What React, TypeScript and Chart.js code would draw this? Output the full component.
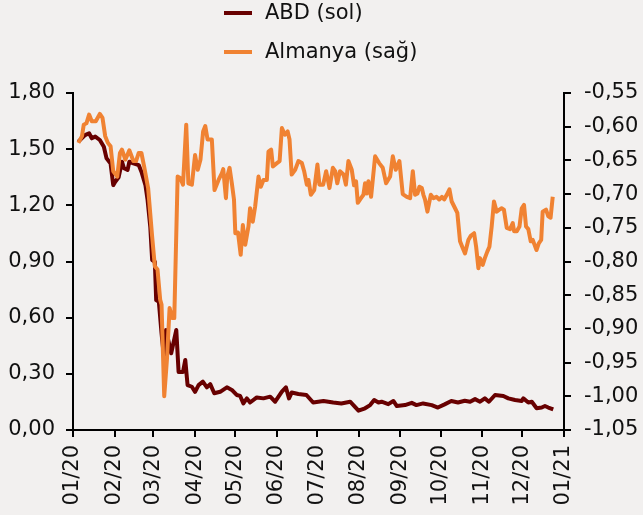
import React, { useEffect, useRef } from "react";
import { Chart, registerables } from "chart.js";

Chart.register(...registerables);

// Day offsets from 2020-01-01
const monthTickDays = [0, 31, 60, 91, 121, 152, 182, 213, 244, 274, 305, 335, 366];
const monthTickLabels = ["01/20", "02/20", "03/20", "04/20", "05/20", "06/20", "07/20", "08/20", "09/20", "10/20", "11/20", "12/20", "01/21"];

const abdLabel = "ABD (sol)";
const almLabel = "Almanya (sağ)";

const abdDays = [4, 9, 12, 14, 16.6, 20, 23, 25, 28, 30, 31.5, 34, 36.5, 38, 40.7, 42, 45, 49, 51, 54, 55.6, 57.6, 59, 61, 62, 64, 66, 68, 69.3, 73.2, 77, 78.7, 82, 83.7, 85.4, 88.6, 91, 93.6, 96.8, 99.8, 102.3, 105.3, 109.7, 114.7, 118.4, 122, 124.6, 127, 129.6, 132, 137, 142, 147, 150.7, 155.7, 158.7, 161, 163, 168, 174, 179, 186.7, 194, 200, 206.6, 209, 212.8, 217.7, 221.5, 224.5, 227.7, 230, 235, 238.8, 241.4, 247.5, 252.5, 256, 261, 267.4, 272, 277, 282, 287, 292, 296, 299.7, 303.4, 307, 310, 314.6, 320.8, 324.5, 329.5, 334.5, 335.7, 339.4, 342, 345.6, 349.4, 351.8, 354.3, 358];
const abdValues = [1.54, 1.575, 1.585, 1.558, 1.567, 1.549, 1.513, 1.451, 1.424, 1.308, 1.326, 1.35, 1.433, 1.398, 1.389, 1.433, 1.424, 1.415, 1.38, 1.308, 1.228, 1.086, 0.908, 0.899, 0.694, 0.685, 0.516, 0.374, 0.534, 0.41, 0.534, 0.31, 0.31, 0.374, 0.24, 0.231, 0.204, 0.24, 0.258, 0.228, 0.245, 0.196, 0.204, 0.228, 0.214, 0.187, 0.182, 0.142, 0.169, 0.147, 0.174, 0.169, 0.178, 0.151, 0.205, 0.228, 0.169, 0.2, 0.192, 0.187, 0.147, 0.155, 0.147, 0.142, 0.151, 0.133, 0.103, 0.116, 0.133, 0.16, 0.147, 0.151, 0.138, 0.155, 0.128, 0.133, 0.145, 0.133, 0.142, 0.133, 0.12, 0.137, 0.155, 0.147, 0.156, 0.151, 0.165, 0.151, 0.169, 0.151, 0.187, 0.182, 0.169, 0.16, 0.155, 0.169, 0.147, 0.151, 0.116, 0.12, 0.128, 0.12, 0.11];

const almDays = [4, 6.7, 8, 10, 12, 14, 17, 20, 22, 24, 26, 28, 30, 33, 35, 36.5, 39, 42, 45, 47, 49, 51, 53, 56, 59, 61, 63, 65, 66, 68, 70, 72, 74, 75.5, 78, 80, 82, 84.4, 86, 88.6, 91, 93, 95, 97, 98.6, 100.3, 103.5, 105.5, 108.5, 111, 112, 114, 115, 116.7, 118.4, 120, 121, 123, 125, 126.6, 128.4, 130.8, 132, 134, 135.8, 138.3, 140, 142, 144.5, 145.7, 147.7, 149, 152, 154, 155.7, 158, 160, 161.4, 163, 165.6, 168, 170.6, 172.3, 174.3, 175.5, 177.3, 179.8, 182.2, 183.7, 186.5, 188.7, 191.2, 193.7, 195.4, 197, 199, 201.7, 203.4, 205.3, 207.8, 209.5, 211, 212.3, 214.7, 216.5, 217.7, 219, 220.2, 222.2, 225.2, 228.2, 230.9, 233.4, 236.4, 238.4, 240.6, 243.3, 245.8, 248.8, 251.3, 253.3, 255, 256.8, 258.2, 260, 261.2, 262.4, 264.2, 266.7, 268.7, 271, 273, 275, 276.7, 278.6, 280.6, 282.3, 284.8, 286.5, 288.5, 290.5, 292.2, 294.7, 296.5, 299, 300.5, 302.2, 303.4, 305.4, 307, 308.9, 310.4, 312.1, 313.8, 315.8, 317.8, 319.5, 321.2, 323.3, 325.8, 327.8, 328.8, 330.8, 332.8, 334.5, 336.2, 337.7, 339.4, 341.2, 342.7, 344, 345.5, 347.2, 349, 350.1, 352.6, 354.3, 356, 357.6];
const almValues = [-0.624, -0.614, -0.597, -0.595, -0.582, -0.592, -0.592, -0.581, -0.587, -0.614, -0.624, -0.629, -0.666, -0.674, -0.639, -0.634, -0.649, -0.635, -0.651, -0.651, -0.639, -0.639, -0.659, -0.691, -0.763, -0.807, -0.812, -0.857, -0.864, -1.0, -0.946, -0.869, -0.884, -0.884, -0.674, -0.676, -0.686, -0.597, -0.684, -0.686, -0.642, -0.664, -0.649, -0.607, -0.599, -0.619, -0.619, -0.694, -0.679, -0.669, -0.663, -0.706, -0.674, -0.661, -0.684, -0.708, -0.758, -0.757, -0.79, -0.746, -0.775, -0.748, -0.721, -0.741, -0.718, -0.674, -0.689, -0.679, -0.679, -0.637, -0.634, -0.659, -0.654, -0.651, -0.602, -0.612, -0.607, -0.619, -0.671, -0.664, -0.651, -0.654, -0.666, -0.686, -0.679, -0.701, -0.694, -0.656, -0.686, -0.686, -0.666, -0.691, -0.661, -0.666, -0.684, -0.666, -0.671, -0.686, -0.651, -0.664, -0.687, -0.681, -0.713, -0.706, -0.701, -0.684, -0.699, -0.681, -0.704, -0.644, -0.654, -0.661, -0.684, -0.674, -0.644, -0.664, -0.651, -0.7, -0.704, -0.706, -0.666, -0.701, -0.699, -0.689, -0.691, -0.701, -0.708, -0.726, -0.701, -0.706, -0.704, -0.708, -0.704, -0.708, -0.701, -0.693, -0.711, -0.721, -0.728, -0.77, -0.78, -0.788, -0.768, -0.762, -0.758, -0.778, -0.81, -0.795, -0.805, -0.795, -0.785, -0.778, -0.748, -0.711, -0.726, -0.723, -0.721, -0.723, -0.75, -0.752, -0.743, -0.755, -0.755, -0.748, -0.721, -0.716, -0.748, -0.752, -0.77, -0.768, -0.775, -0.783, -0.773, -0.768, -0.726, -0.723, -0.733, -0.735, -0.704];

const ABD_COLOR = "#680000";
const ALM_COLOR = "#f08232";
const TEXT_COLOR = "#111111";
const BG = "#f2f0ef";
const FONT = "'DejaVu Sans', sans-serif";

const fmt = (v: number) => (Math.round(v * 100) / 100).toFixed(2).replace(".", ",");

const stackedLegend = {
  id: "stackedLegend",
  afterDraw(chart: any) {
    const ctx = chart.ctx;
    ctx.save();
    ctx.font = `21px ${FONT}`;
    ctx.textBaseline = "middle";
    ctx.textAlign = "left";
    chart.data.datasets.forEach((ds: any, i: number) => {
      const y = 13 + i * 39;
      ctx.strokeStyle = ds.borderColor;
      ctx.lineWidth = 4;
      ctx.beginPath();
      ctx.moveTo(224, y);
      ctx.lineTo(252, y);
      ctx.stroke();
      ctx.fillStyle = TEXT_COLOR;
      ctx.fillText(ds.label, 265, y + 1);
    });
    ctx.restore();
  },
};

export default function App() {
  const ref = useRef<HTMLCanvasElement>(null);

  useEffect(() => {
    if (!ref.current) return;
    const axisCommon = {
      border: { display: true, color: "#000", width: 2 },
      grid: { display: true, drawOnChartArea: false, drawTicks: true, tickLength: 7, color: "#000", lineWidth: 2 },
    };
    const chart = new Chart(ref.current, {
      type: "line",
      data: {
        datasets: [
          {
            label: abdLabel,
            data: abdDays.map((d, i) => ({ x: d, y: abdValues[i] })),
            borderColor: ABD_COLOR,
            backgroundColor: ABD_COLOR,
            borderWidth: 4,
            pointRadius: 0,
            tension: 0,
            borderJoinStyle: "round",
            yAxisID: "yLeft",
            order: 1,
          },
          {
            label: almLabel,
            data: almDays.map((d, i) => ({ x: d, y: almValues[i] })),
            borderColor: ALM_COLOR,
            backgroundColor: ALM_COLOR,
            borderWidth: 4,
            pointRadius: 0,
            tension: 0,
            borderJoinStyle: "round",
            yAxisID: "yRight",
            order: 0,
          },
        ],
      },
      options: {
        animation: false,
        responsive: false,
        devicePixelRatio: 1,
        layout: { padding: { top: 93, left: 0, right: 0, bottom: 0 } },
        plugins: { legend: { display: false }, tooltip: { enabled: false } },
        scales: {
          x: {
            type: "linear",
            min: 0,
            max: 366,
            ...axisCommon,
            afterBuildTicks: (scale: any) => {
              scale.ticks = monthTickDays.map((v) => ({ value: v }));
            },
            afterFit: (scale: any) => {
              scale.height = 85;
            },
            ticks: {
              autoSkip: false,
              minRotation: 90,
              maxRotation: 90,
              padding: 8,
              color: TEXT_COLOR,
              font: { family: FONT, size: 21 },
              callback: (v: any) => {
                const idx = monthTickDays.indexOf(Number(v));
                return idx >= 0 ? monthTickLabels[idx] : "";
              },
            },
          },
          yLeft: {
            type: "linear",
            position: "left",
            min: 0,
            max: 1.8,
            ...axisCommon,
            afterFit: (scale: any) => {
              scale.width = 73;
            },
            ticks: {
              stepSize: 0.3,
              padding: 11,
              color: TEXT_COLOR,
              font: { family: FONT, size: 21 },
              callback: (v: any) => fmt(Number(v)),
            },
          },
          yRight: {
            type: "linear",
            position: "right",
            min: -1.05,
            max: -0.55,
            ...axisCommon,
            afterFit: (scale: any) => {
              scale.width = 79;
            },
            ticks: {
              stepSize: 0.05,
              padding: 13,
              color: TEXT_COLOR,
              font: { family: FONT, size: 21 },
              callback: (v: any) => fmt(Number(v)),
            },
          },
        },
      },
      plugins: [stackedLegend],
    } as any);
    return () => chart.destroy();
  }, []);

  return (
    <div style={{ position: "fixed", left: 0, top: 0, width: 643, height: 515, background: BG }}>
      <canvas ref={ref} width={643} height={515} style={{ display: "block", width: 643, height: 515 }} />
    </div>
  );
}
